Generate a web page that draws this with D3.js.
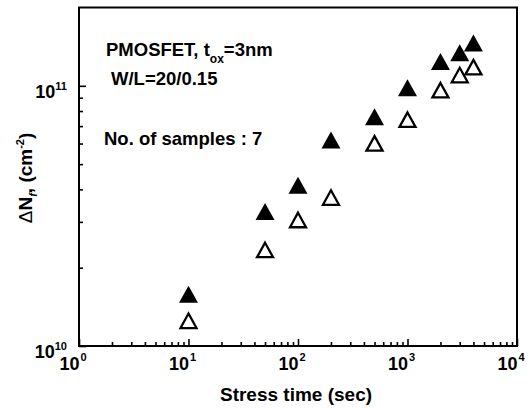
<!DOCTYPE html>
<html><head><meta charset="utf-8">
<script src="https://cdn.jsdelivr.net/npm/d3@7"></script>
<style>
body{margin:0;background:#fff}
svg{display:block;background:#fff}
text{font-family:"Liberation Sans",Arial,Helvetica,sans-serif;font-weight:bold;fill:#000}
</style>
</head><body>
<svg id="c" width="531" height="408"></svg>
<script>
// ---- data ----
const stressTime = [10, 50, 100, 200, 500, 1000, 2000, 3000, 4000];
const filledNf   = [1.58e10, 3.29e10, 4.15e10, 6.19e10, 7.61e10, 9.82e10, 1.24e11, 1.34e11, 1.46e11];
const openNf     = [1.25e10, 2.34e10, 3.05e10, 3.72e10, 6.01e10, 7.41e10, 9.62e10, 1.10e11, 1.18e11];
const xTickExp   = [0, 1, 2, 3, 4];
const yTickExp   = [10, 11];
const xDomain    = [1, 1e4];
const yDomain    = [1e10, 2e11];

// ---- layout ----
const L = 79, R = 517, T = 7.5, B = 346;
const svg = d3.select("#c");
const x = d3.scaleLog().domain(xDomain).range([L, R]);
const y = d3.scaleLog().domain(yDomain).range([B, T]);

// minor / major ticks
const xTicks = [];
for (let e = 0; e < 4; e++) for (let m = 1; m < 10; m++) xTicks.push(m * Math.pow(10, e));
xTicks.push(1e4);
const yTicks = [];
for (let m = 1; m < 10; m++) yTicks.push(m * 1e10);
yTicks.push(1e11);
const isMajor = v => Math.abs(Math.log10(v) - Math.round(Math.log10(v))) < 1e-9;

const gx = svg.append("g").attr("transform", `translate(0,${B})`)
  .call(d3.axisBottom(x).tickValues(xTicks).tickFormat("").tickSizeOuter(0).tickSizeInner(-4));
gx.selectAll(".tick line").attr("y2", d => isMajor(d) ? -7 : -4).attr("stroke-width", 1.6);
gx.select(".domain").remove();

const gy = svg.append("g").attr("transform", `translate(${L},0)`)
  .call(d3.axisLeft(y).tickValues(yTicks).tickFormat("").tickSizeOuter(0).tickSizeInner(-4));
gy.selectAll(".tick line").attr("x2", d => isMajor(d) ? 7 : 4).attr("stroke-width", 1.6);
gy.select(".domain").remove();

// frame
svg.append("rect").attr("x", L).attr("y", T).attr("width", R - L).attr("height", B - T)
  .attr("fill", "none").attr("stroke", "#000").attr("stroke-width", 2);

// x tick labels
xTickExp.forEach(e => {
  const px = x(Math.pow(10, e));
  svg.append("text").attr("x", px + 0.5).attr("y", 370).attr("text-anchor", "end")
    .attr("font-size", 18).text("10");
  svg.append("text").attr("x", px + 1.5).attr("y", 361).attr("text-anchor", "start")
    .attr("font-size", 11).text(String(e));
});
// y tick labels
yTickExp.forEach(e => {
  const py = y(Math.pow(10, e));
  const t = svg.append("text").attr("x", 67).attr("y", py + 12).attr("text-anchor", "end");
  t.append("tspan").attr("font-size", 18).text("10");
  t.append("tspan").attr("font-size", 11).attr("dy", -8).text(String(e));
});

// axis titles
svg.append("text").attr("x", 296).attr("y", 401).attr("text-anchor", "middle")
  .attr("font-size", 19).text("Stress time (sec)");
const yt = svg.append("text").attr("transform", "translate(32,178) rotate(-90)")
  .attr("text-anchor", "middle").attr("font-size", 19);
yt.append("tspan").attr("font-weight", "normal").text("Δ");
yt.append("tspan").text("N");
yt.append("tspan").attr("font-size", 11).attr("font-style", "italic").attr("dy", 5).text("f");
yt.append("tspan").attr("dy", -5).text(", (cm");
yt.append("tspan").attr("font-size", 11).attr("dy", -8).text("-2");
yt.append("tspan").attr("dy", 8).text(")");

// annotations
const a1 = svg.append("text").attr("x", 106).attr("y", 56).attr("font-size", 18.5);
a1.append("tspan").text("PMOSFET, t");
a1.append("tspan").attr("font-size", 12).attr("dy", 7).text("ox");
a1.append("tspan").attr("dy", -7).text("=3nm");
svg.append("text").attr("x", 111).attr("y", 85).attr("font-size", 18.5).text("W/L=20/0.15");
svg.append("text").attr("x", 104).attr("y", 145).attr("font-size", 18.5).text("No. of samples : 7");

// triangles
const tri = (w, h) => `M0,${-h/2}L${w/2},${h/2}L${-w/2},${h/2}Z`;
svg.append("g").selectAll("path").data(stressTime.map((t, i) => [t, openNf[i]])).join("path")
  .attr("d", tri(16, 14.5))
  .attr("transform", d => `translate(${x(d[0])},${y(d[1])})`)
  .attr("fill", "#fff").attr("stroke", "#000").attr("stroke-width", 2.3);
svg.append("g").selectAll("path").data(stressTime.map((t, i) => [t, filledNf[i]])).join("path")
  .attr("d", tri(19, 17))
  .attr("transform", d => `translate(${x(d[0])},${y(d[1])})`)
  .attr("fill", "#000");
</script>
</body></html>
